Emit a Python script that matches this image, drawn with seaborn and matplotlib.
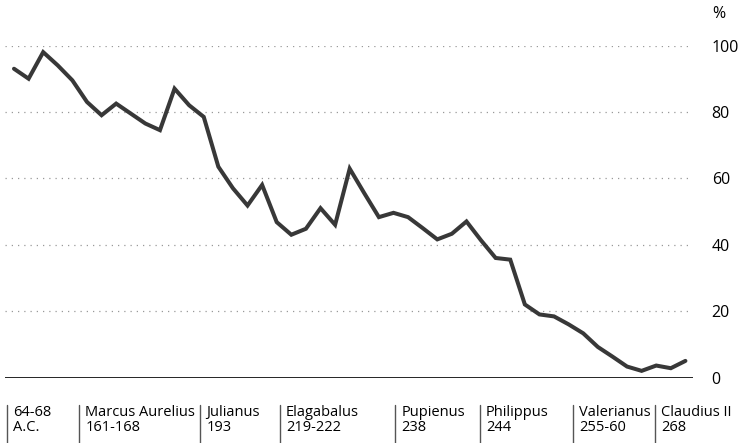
import numpy as np
import pandas as pd
import seaborn as sns
import matplotlib.pyplot as plt
from matplotlib.lines import Line2D
from matplotlib.transforms import blended_transform_factory

# silver content of the denarius, in %
silver = [93, 90, 98, 94, 89.5, 83, 79, 82.5, 79.5, 76.5,
          74.5, 87, 82, 78.5, 63.5, 57, 51.8, 58, 46.8, 43,
          44.8, 51, 46, 62.9, 55.5, 48.3, 49.6, 48.3, 45, 41.6,
          43.3, 47, 41.3, 36, 35.5, 22, 19, 18.4, 16, 13.3,
          9.2, 6.3, 3.3, 2, 3.6, 2.8, 5]
yticks = [0, 20, 40, 60, 80, 100]
emperors = ['64-68', 'Marcus Aurelius', 'Julianus', 'Elagabalus',
            'Pupienus', 'Philippus', 'Valerianus', 'Claudius II']
dates = ['A.C.', '161-168', '193', '219-222', '238', '244', '255-60', '268']
# where each period starts along the series
starts = [-0.5, 4.45, 12.75, 18.2, 26.1, 31.9, 38.3, 43.9]

df = pd.DataFrame({'i': np.arange(len(silver)), 'silver': silver})

sns.set_style('white')
plt.rcParams['font.family'] = ['Open Sans', 'DejaVu Sans']

fig = plt.figure(figsize=(7.48, 4.43), dpi=100)
W, H = 748, 443
ax = fig.add_axes([5 / W, (H - 377.5) / H, 688 / W, 332 / H])

sns.lineplot(data=df, x='i', y='silver', ax=ax, color='#383838',
             linewidth=2.9, solid_joinstyle='miter', clip_on=False)

ax.set_xlim(-0.616, 46.52)
ax.set_ylim(0, 100)
for v in yticks[1:]:
    ax.axhline(v, color='#999999', linestyle=(0, (1, 4)), linewidth=0.9, zorder=0)
ax.axhline(0, color='black', linewidth=1.2, zorder=1)

for s in ax.spines.values():
    s.set_visible(False)
ax.set_xticks([])
ax.set_xlabel('')
ax.set_ylabel('')
ax.yaxis.tick_right()
ax.set_yticks(yticks)
ax.tick_params(axis='y', length=0, pad=13.5, labelsize=11.5, labelcolor='black')
for t in ax.get_yticklabels():
    t.set_horizontalalignment('left')

fig.text(712 / W, 1 - 14 / H, '%', fontsize=11.5, va='center', ha='left', color='black')

# period labels under the chart
tr = blended_transform_factory(ax.transData, fig.transFigure)
for x0, name, d in zip(starts, emperors, dates):
    fig.add_artist(Line2D([x0, x0], [0, 1 - 405 / H], transform=tr,
                          color='#555555', linewidth=1.0))
    ax.annotate(name, xy=(x0, 1 - 416 / H), xycoords=tr, xytext=(4.5, 0),
                textcoords='offset points', fontsize=10.5, va='baseline',
                color='black', annotation_clip=False)
    ax.annotate(d, xy=(x0, 1 - 431 / H), xycoords=tr, xytext=(4.5, 0),
                textcoords='offset points', fontsize=10.5, va='baseline',
                color='black', annotation_clip=False)

plt.savefig('out.png', dpi=100)
